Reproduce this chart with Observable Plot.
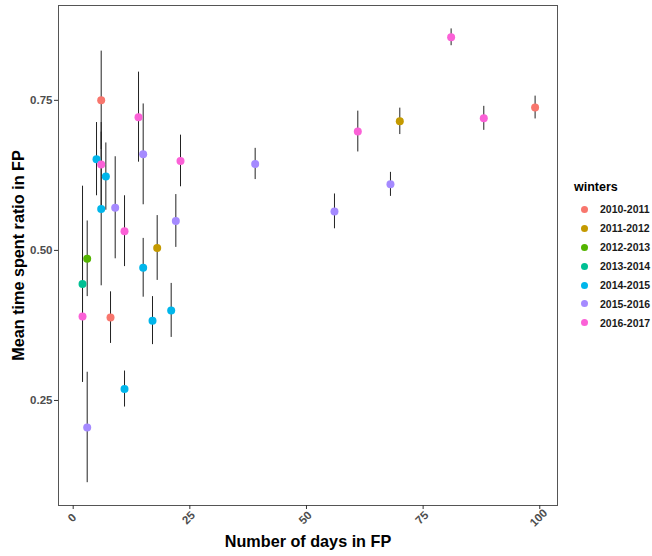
<!DOCTYPE html>
<html><head><meta charset="utf-8">
<script src="https://cdn.jsdelivr.net/npm/d3@7"></script>
<script src="https://cdn.jsdelivr.net/npm/@observablehq/plot@0.6"></script>
<style>
body{margin:0;background:#fff;font-family:"Liberation Sans",Arial,sans-serif;}
#wrap{position:relative;width:652px;height:556px;}
#legend{position:absolute;left:574px;top:180px;font-weight:bold;}
#legend .t{font-size:12.5px;color:#000;margin-bottom:6px;}
#legend .i{display:flex;align-items:center;height:18.9px;font-size:10.5px;color:#1a1a1a;}
#legend .d{width:7px;height:7px;border-radius:50%;margin-left:7px;margin-right:12px;}
</style></head><body><div id="wrap"></div>
<script>
const winters = ["2010-2011","2011-2012","2012-2013","2013-2014","2014-2015","2015-2016","2016-2017"];
const colors = ["#F8766D","#C49A00","#53B400","#00C094","#00B6EB","#A58AFF","#FB61D7"];
const winter = [0,0,0, 1,1, 2, 3, 4,4,4,4,4,4,4, 5,5,5,5,5,5,5, 6,6,6,6,6,6,6,6];
const days   = [6,8,99, 18,70, 3, 2, 5,6,7,15,17,21,11, 9,15,22,39,56,68,3, 6,14,23,11,2,61,81,88];
const ratio  = [0.750,0.388,0.738, 0.504,0.715, 0.486, 0.444, 0.652,0.569,0.623,0.471,0.383,0.400,0.269, 0.571,0.660,0.549,0.644,0.565,0.610,0.205, 0.643,0.722,0.649,0.532,0.390,0.698,0.855,0.720];
const halfErr= [0.082,0.043,0.019, 0.054,0.022, 0.063, 0.163, 0.061,0.128,0.056,0.049,0.040,0.045,0.030, 0.085,0.084,0.044,0.026,0.029,0.020,0.092, 0.070,0.075,0.043,0.059,0.110,0.034,0.014,0.020];
const xTicks = [0,25,50,75,100];
const yTicks = [0.25,0.50,0.75];

const rows = days.map((d,i)=>({days:d, ratio:ratio[i], lo:ratio[i]-halfErr[i], hi:ratio[i]+halfErr[i], winter:winters[winter[i]]}));

const chart = Plot.plot({
  width:565, height:556,
  marginLeft:58, marginRight:8, marginTop:5, marginBottom:51,
  x:{domain:[-3.15,103.8]},
  y:{domain:[0.075,0.908]},
  color:{domain:winters, range:colors},
  style:{fontFamily:"'Liberation Sans', Arial, sans-serif", background:"white"},
  marks:[
    Plot.ruleX(rows,{x:"days", y1:"lo", y2:"hi", stroke:"#222", strokeWidth:1}),
    Plot.dot(rows,{x:"days", y:"ratio", fill:"winter", r:4}),
    Plot.frame({stroke:"#555", strokeWidth:1}),
    Plot.axisY({ticks:yTicks, tickFormat:".2f", tickSize:4, tickPadding:2, fontWeight:"bold", fontSize:11.5, fill:"#4d4d4d", stroke:"#333", label:null}),
    Plot.axisX({ticks:xTicks, tickSize:4, tickFormat:()=>"", stroke:"#333", label:null}),
    Plot.text(xTicks,{x:d=>d, text:d=>String(d), frameAnchor:"bottom", dy:15, dx:1.5, rotate:-45, textAnchor:"middle", fontWeight:"bold", fontSize:11.5, fill:"#4d4d4d"}),
    Plot.text(["Number of days in FP"],{frameAnchor:"bottom", dy:41, textAnchor:"middle", fontWeight:"bold", fontSize:16.2, fill:"#000"}),
    Plot.text(["Mean time spent ratio in FP"],{frameAnchor:"left", dx:-40, rotate:-90, textAnchor:"middle", fontWeight:"bold", fontSize:16.2, fill:"#000"})
  ]
});
const wrap = document.getElementById("wrap");
wrap.appendChild(chart);
chart.style.position="absolute"; chart.style.left="0"; chart.style.top="0";

const lg = document.createElement("div"); lg.id="legend";
lg.innerHTML = `<div class="t">winters</div>` + winters.map((w,i)=>`<div class="i"><span class="d" style="background:${colors[i]}"></span>${w}</div>`).join("");
wrap.appendChild(lg);
</script>
</body></html>
